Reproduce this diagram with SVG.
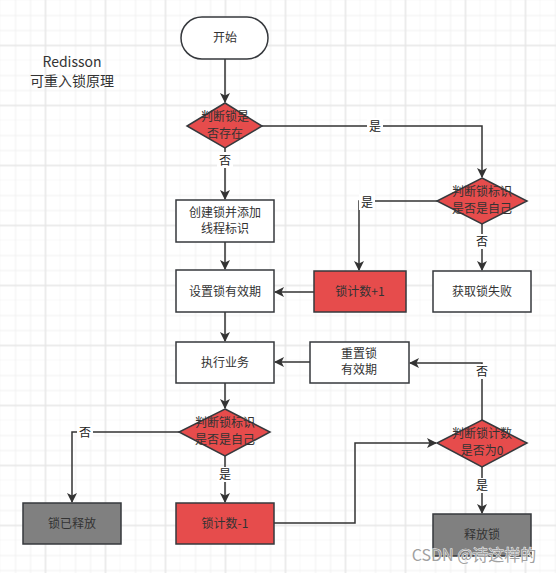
<svg xmlns="http://www.w3.org/2000/svg" width="556" height="573" viewBox="0 0 556 573">
<style>
.box{stroke:#36393d;stroke-width:1.5}
.w{fill:#ffffff}.r{fill:#e64c4c}.g{fill:#808080}
.t{font-family:"Noto Sans CJK SC","Liberation Sans",sans-serif;font-size:12px;fill:#333333;text-anchor:middle}
.lbl{font-family:"Noto Sans CJK SC","Liberation Sans",sans-serif;font-size:12px;fill:#222222;text-anchor:middle}
.ln{fill:none;stroke:#333333;stroke-width:1.5}
.lb{fill:#ffffff}
</style>
<defs>
<pattern id="grid" width="60" height="60" patternUnits="userSpaceOnUse" x="0.5" y="0.5">
<path d="M15 0V60M30 0V60M60 0V60M0 15H60M0 30H60M0 60H60" stroke="#f0f0f0" stroke-width="1" fill="none"/>
<path d="M45 0V60M0 45H60" stroke="#e6e6e6" stroke-width="1.5" fill="none"/>
</pattern>
<marker id="ah" markerWidth="10" markerHeight="10" refX="9" refY="5" orient="auto" markerUnits="userSpaceOnUse">
<path d="M0 0L10 5L0 10L2.5 5Z" fill="#333333"/>
</marker>
</defs>
<rect width="556" height="573" fill="#ffffff"/>
<rect width="556" height="573" fill="url(#grid)"/>

<g id="title">
<text class="t" x="72" y="67" style="font-size:14px">Redisson</text>
<text class="t" x="72" y="86" style="font-size:14px">可重入锁原理</text>
</g>

<g id="connectors">
<path class="ln" d="M225 59V102" marker-end="url(#ah)"/>
<path class="ln" d="M225 148V199" marker-end="url(#ah)"/>
<rect class="lb" x="217" y="152" width="16" height="16"/>
<text class="lbl" x="225" y="165">否</text>
<path class="ln" d="M262 126H482V177" marker-end="url(#ah)"/>
<rect class="lb" x="367" y="118" width="16" height="16"/>
<text class="lbl" x="375" y="131">是</text>
<path class="ln" d="M437 201H359V270" marker-end="url(#ah)"/>
<rect class="lb" x="359" y="194" width="16" height="16"/>
<text class="lbl" x="367" y="207">是</text>
<path class="ln" d="M482 224V270" marker-end="url(#ah)"/>
<rect class="lb" x="474" y="234" width="16" height="15"/>
<text class="lbl" x="482" y="246">否</text>
<path class="ln" d="M225 242V269" marker-end="url(#ah)"/>
<path class="ln" d="M314 292H275" marker-end="url(#ah)"/>
<path class="ln" d="M225 312V341" marker-end="url(#ah)"/>
<path class="ln" d="M310 362H275" marker-end="url(#ah)"/>
<path class="ln" d="M225 383V408" marker-end="url(#ah)"/>
<path class="ln" d="M179 432H72V502" marker-end="url(#ah)"/>
<rect class="lb" x="77" y="425" width="16" height="15"/>
<text class="lbl" x="85" y="437">否</text>
<path class="ln" d="M225 456V502" marker-end="url(#ah)"/>
<rect class="lb" x="217" y="467" width="16" height="15"/>
<text class="lbl" x="225" y="479">是</text>
<path class="ln" d="M274 523H355V443H436" marker-end="url(#ah)"/>
<path class="ln" d="M482 420V363H410" marker-end="url(#ah)"/>
<rect class="lb" x="474" y="364" width="16" height="15"/>
<text class="lbl" x="482" y="376">否</text>
<path class="ln" d="M482 467V513" marker-end="url(#ah)"/>
<rect class="lb" x="474" y="478" width="16" height="15"/>
<text class="lbl" x="482" y="490">是</text>
</g>

<g id="start">
<rect class="box w" x="181" y="17" width="87" height="42" rx="21" ry="21"/>
<text class="t" x="225" y="42">开始</text>
</g>
<g id="d1">
<path class="box r" d="M225 103L262 126L225 148L187 126Z"/>
<text class="t" x="225" y="121">判断锁是</text>
<text class="t" x="225" y="138">否存在</text>
</g>
<g id="create">
<rect class="box w" x="176" y="200" width="98" height="42"/>
<text class="t" x="225" y="217">创建锁并添加</text>
<text class="t" x="225" y="233">线程标识</text>
</g>
<g id="setexp">
<rect class="box w" x="176" y="270" width="98" height="42"/>
<text class="t" x="225" y="296">设置锁有效期</text>
</g>
<g id="exec">
<rect class="box w" x="176" y="342" width="98" height="41"/>
<text class="t" x="225" y="367">执行业务</text>
</g>
<g id="d2">
<path class="box r" d="M482 178L527 201L482 224L437 201Z"/>
<text class="t" x="482" y="196">判断锁标识</text>
<text class="t" x="482" y="213">是否是自己</text>
</g>
<g id="inc">
<rect class="box r" x="314" y="271" width="92" height="41"/>
<text class="t" x="360" y="296">锁计数+1</text>
</g>
<g id="fail">
<rect class="box w" x="433" y="271" width="98" height="41"/>
<text class="t" x="482" y="296">获取锁失败</text>
</g>
<g id="reset">
<rect class="box w" x="310" y="342" width="99" height="41"/>
<text class="t" x="359" y="358">重置锁</text>
<text class="t" x="359" y="374">有效期</text>
</g>
<g id="d4">
<path class="box r" d="M225 409L270 432L225 456L179 432Z"/>
<text class="t" x="225" y="427">判断锁标识</text>
<text class="t" x="225" y="444">是否是自己</text>
</g>
<g id="released">
<rect class="box g" x="23" y="503" width="98" height="41"/>
<text class="t" x="72" y="528">锁已释放</text>
</g>
<g id="dec">
<rect class="box r" x="176" y="503" width="98" height="41"/>
<text class="t" x="225" y="528">锁计数-1</text>
</g>
<g id="d3">
<path class="box r" d="M482 420L527 443L482 467L437 443Z"/>
<text class="t" x="482" y="438">判断锁计数</text>
<text class="t" x="482" y="455">是否为0</text>
</g>
<g id="release">
<rect class="box g" x="433" y="514" width="98" height="42"/>
<text class="t" x="482" y="539">释放锁</text>
</g>
<g id="watermark">
<text x="474" y="561" style="font-family:'Noto Sans CJK SC','Liberation Sans',sans-serif;font-size:16px;fill:#a0a0a0;text-anchor:middle;stroke:#ffffff;stroke-width:0.8;paint-order:stroke">CSDN @诗这样的</text>
</g>
</svg>
